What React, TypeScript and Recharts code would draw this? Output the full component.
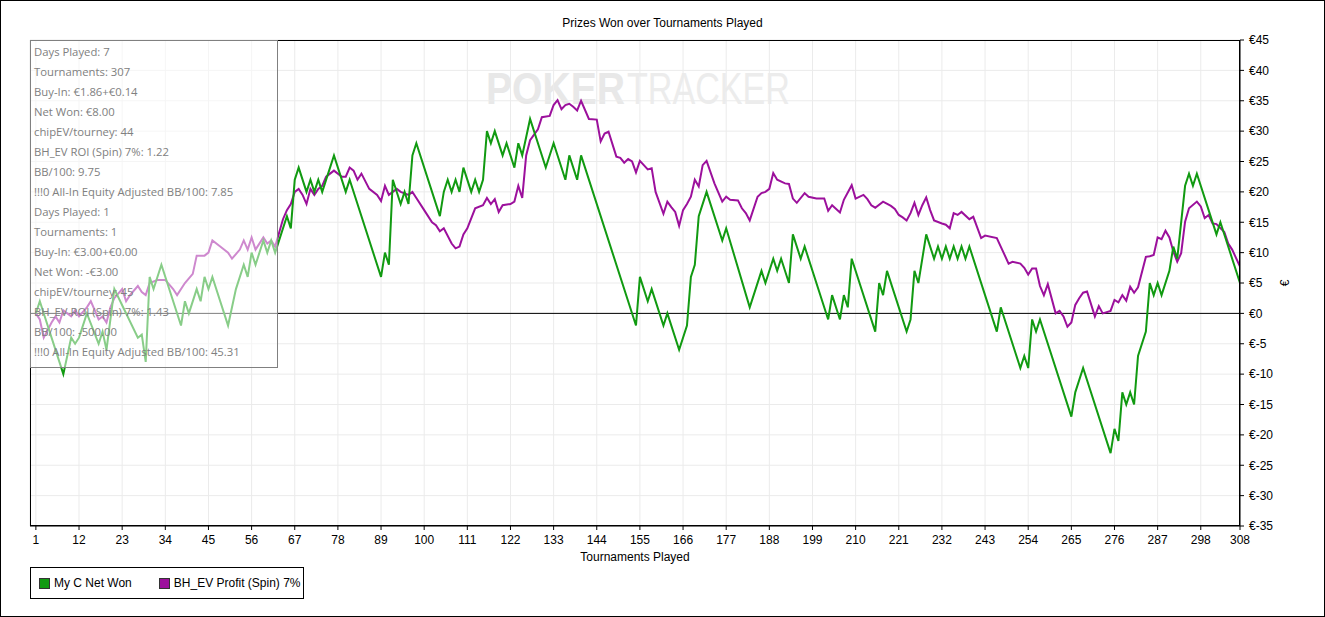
import React from "react";
import {
  LineChart,
  Line,
  XAxis,
  YAxis,
  CartesianGrid,
  ReferenceLine,
} from "recharts";

// My C Net Won (cumulative euros) - turning points
const netWonTourney = [
  1, 2, 8, 10, 11, 12, 14, 17, 18, 19, 21, 27, 28, 29, 30, 31, 33, 38, 39, 40,
  42, 43, 44, 45, 46, 50, 52, 54, 55, 56, 57, 59, 60, 61, 62, 65, 66, 67, 68, 70,
  71, 72, 73, 74, 77, 80, 81, 89, 90, 91, 92, 94, 95, 96, 97, 98, 104, 105, 106, 107,
  108, 109, 110, 112, 113, 114, 115, 116, 117, 118, 120, 121, 123, 124, 125, 127, 131, 133, 136, 137,
  139, 140, 154, 155, 157, 158, 161, 162, 165, 167, 168, 169, 170, 172, 176, 177, 183, 186, 187, 189,
  190, 191, 193, 194, 196, 197, 203, 204, 206, 207, 208, 209, 215, 216, 217, 218, 223, 224, 225, 226,
  228, 230, 231, 232, 233, 234, 235, 236, 237, 238, 239, 246, 247, 252, 253, 254, 255, 256, 257, 265,
  266, 268, 275, 276, 277, 278, 279, 280, 281, 282, 284, 285, 286, 287, 288, 290, 291, 292, 294, 295,
  296, 297, 302, 303, 308,
];
const netWonValue = [
  0, 2, -10, -4, -5, -4, 0, -5, -3, -6, 4, -4, -3.5, -8, 6, 4, 8, -2, 2, 0,
  4, 2, 6, 4, 6, -2, 4, 8, 6, 10, 8, 12, 10, 12, 10, 16, 14, 22, 24, 20,
  22, 20, 22, 20, 26, 20, 22, 6, 10, 8, 22, 18, 20, 18, 26, 28, 16, 20, 22, 20,
  22, 20, 24, 20, 22, 20, 22, 30, 28, 30, 26, 28, 24, 28, 26, 32, 24, 28, 22, 26,
  22, 26, -2, 6, 2, 4, -2, 0, -6, -2, 6, 8, 16, 20, 12, 14, 1, 7, 5, 9,
  7, 9, 5, 13, 9, 11, -1, 3, -1, 3, 1, 9, -3, 5, 3, 7, -3, -1, 7, 5,
  13, 9, 11, 9, 11, 9, 11, 9, 11, 9, 11, -3, 1, -9, -7, -9, -1, -3, -1, -17,
  -13, -9, -23, -19, -21, -13, -15, -13, -15, -7, -3, 5, 3, 5, 3, 7, 11, 9, 21, 23,
  21, 23, 13, 15, 5,
];

// BH_EV Profit (Spin) 7%
const evTourney = [
  1, 2, 3, 5, 6, 7, 8, 10, 11, 12, 14, 15, 17, 18, 19, 20, 21, 23, 24, 25,
  27, 28, 29, 30, 32, 34, 36, 37, 39, 41, 42, 44, 45, 46, 48, 50, 51, 53, 54, 55,
  56, 57, 59, 60, 61, 62, 64, 65, 66, 67, 68, 69, 70, 71, 72, 73, 74, 75, 76, 77,
  79, 80, 81, 82, 83, 84, 86, 88, 89, 90, 91, 93, 94, 96, 97, 98, 100, 102, 103, 104,
  105, 107, 108, 109, 110, 111, 113, 115, 116, 117, 118, 119, 120, 122, 123, 124, 125, 126, 127, 129,
  130, 132, 133, 134, 135, 136, 137, 138, 139, 140, 142, 144, 145, 146, 147, 149, 150, 151, 152, 153,
  154, 155, 157, 158, 159, 161, 162, 163, 164, 165, 166, 167, 168, 169, 170, 171, 172, 174, 176, 177,
  178, 180, 181, 182, 183, 185, 186, 187, 188, 189, 190, 192, 193, 194, 195, 197, 198, 200, 202, 203,
  204, 206, 207, 209, 210, 212, 213, 214, 215, 217, 219, 220, 221, 222, 223, 224, 225, 226, 227, 228,
  229, 230, 232, 233, 234, 235, 236, 237, 239, 240, 242, 243, 246, 247, 249, 250, 252, 253, 254, 255,
  256, 257, 258, 259, 261, 262, 263, 264, 265, 266, 267, 268, 269, 271, 272, 273, 275, 276, 277, 278,
  279, 280, 281, 282, 284, 285, 286, 287, 288, 289, 290, 291, 292, 293, 294, 295, 297, 298, 299, 300,
  301, 302, 304, 305, 306, 308,
];
const evValue = [
  0, -1, -4, -1.5, -0.5, -1.5, 0.5, -0.5, 0.5, -0.5, 1, 2, -1, -0.5, -1.5, 1, 2.5, 4, 2, 3,
  4.5, 3.5, 3, 5, 5.5, 5.5, 4, 3, 5, 6.5, 9.5, 9.5, 10, 12, 11, 10, 9, 10.5, 12, 10.5,
  12.5, 10.5, 12.5, 11.5, 12, 11, 15.5, 17, 18, 20, 20.5, 19.5, 18, 20.5, 19.5, 20.5, 21, 22.5, 23, 23.5,
  22.5, 22.5, 24, 23.5, 22, 23, 20.5, 19.5, 18.5, 21, 19.5, 20.5, 20, 19.5, 20, 19, 17, 15, 14.5, 13.5,
  14, 11.5, 10.7, 11, 13, 14, 17.3, 17.8, 19, 18, 18.8, 16.7, 17.8, 18, 18.4, 21, 19, 26, 28.5, 30.3,
  32.3, 32.5, 34.3, 35.1, 33.6, 34.3, 34.5, 34, 33.4, 35, 32, 31.9, 28.3, 29.6, 29.9, 25.8, 25.6, 24.8, 25.4, 25,
  23.2, 25.1, 23.7, 23.9, 20, 16.4, 18.4, 17.5, 16.7, 14.4, 17, 18, 19.2, 22, 20.9, 24.4, 25.1, 21.4, 18.4, 19.2,
  18.7, 18.6, 17.3, 16.5, 15.3, 19.2, 19.8, 20, 20.5, 23.1, 22, 21.4, 21.3, 18.9, 18.2, 19.8, 19.2, 18.9, 18.9, 16.9,
  17.8, 16.6, 18.7, 21.1, 18.9, 19.5, 18.8, 17.8, 17.4, 18.4, 17.7, 17.2, 16.2, 15.8, 15.3, 16.5, 18.2, 16.2, 17.8, 19.1,
  17, 15.3, 14.8, 14.6, 14, 16.5, 16.2, 16.7, 15.5, 15.9, 12.4, 12.8, 12.4, 11, 8.2, 8.5, 8.2, 7.5, 6.4, 7.4,
  7.4, 4.5, 3, 4.8, 0, 0.4, -0.5, -2.2, -1.5, 1.4, 2.5, 3.4, 3.6, -0.5, 1.2, 0, 0.4, 2.2, 1.8, 3,
  2.1, 4.4, 3.4, 4.3, 9.3, 9.4, 9.6, 12.5, 12.2, 13.6, 12.5, 10.2, 8.5, 9.9, 15.1, 17.3, 18.4, 17.6, 15.7, 16.2,
  14.8, 14.7, 13.4, 11.5, 10.5, 7.7,
];

const xTicks = [1, 12, 23, 34, 45, 56, 67, 78, 89, 100, 111, 122, 133, 144, 155, 166, 177, 188, 199, 210, 221, 232, 243, 254, 265, 276, 287, 298, 308];
const yTicks = [-35, -30, -25, -20, -15, -10, -5, 0, 5, 10, 15, 20, 25, 30, 35, 40, 45];

const hoverLines = [
  "Days Played: 7",
  "Tournaments: 307",
  "Buy-In: €1.86+€0.14",
  "Net Won: €8.00",
  "chipEV/tourney: 44",
  "BH_EV ROI (Spin) 7%: 1.22",
  "BB/100: 9.75",
  "!!!0 All-In Equity Adjusted BB/100: 7.85",
  "Days Played: 1",
  "Tournaments: 1",
  "Buy-In: €3.00+€0.00",
  "Net Won: -€3.00",
  "chipEV/tourney: 45",
  "BH_EV ROI (Spin) 7%: 1.43",
  "BB/100: -500.00",
  "!!!0 All-In Equity Adjusted BB/100: 45.31",
];

const GREEN = "#119a11";
const PURPLE = "#9c109c";
const FONT = "'Liberation Sans', Arial, sans-serif";

const netWon = netWonTourney.map((t, i) => ({ t, v: netWonValue[i] }));
const evProfit = evTourney.map((t, i) => ({ t, v: evValue[i] }));

export default function App() {
  return (
    <div style={{ position: "relative", width: 1325, height: 617, background: "#fff", fontFamily: FONT }}>
      <style>{"body{margin:0}"}</style>

      {/* watermark behind the lines */}
      <svg style={{ position: "absolute", left: 486, top: 58, width: 330, height: 60 }}>
        <text x={0} y={46} fontSize={44} fontWeight={700} fill="#e8e8e8" textLength={139} lengthAdjust="spacingAndGlyphs" fontFamily={FONT}>
          POKER
        </text>
        <text x={141} y={46} fontSize={44} fill="#ececec" textLength={163} lengthAdjust="spacingAndGlyphs" fontFamily={FONT}>
          TRACKER
        </text>
      </svg>

      <div style={{ position: "absolute", left: 0, top: 0 }}>
        <LineChart width={1325} height={617} margin={{ top: 40, right: 0, left: 30, bottom: 61 }}>
          <CartesianGrid stroke="#ebebeb" />
          <XAxis
            type="number"
            dataKey="t"
            domain={[-0.5, 308]}
            ticks={xTicks}
            interval={0}
            allowDataOverflow
            height={30}
            tickSize={4}
            tickMargin={5}
            stroke="#000"
            tick={{ fontSize: 12, fill: "#000", fontFamily: FONT }}
          />
          <YAxis
            orientation="right"
            type="number"
            domain={[-35, 45]}
            ticks={yTicks}
            interval={0}
            width={85}
            tickSize={4}
            tickMargin={5}
            stroke="#000"
            tickFormatter={(v) => `€${v}`}
            tick={{ fontSize: 12, fill: "#000", fontFamily: FONT }}
          />
          <ReferenceLine y={0} stroke="#000" strokeWidth={1} />
          <Line data={evProfit} dataKey="v" type="linear" stroke={PURPLE} strokeWidth={2} dot={false} isAnimationActive={false} />
          <Line data={netWon} dataKey="v" type="linear" stroke={GREEN} strokeWidth={2} dot={false} isAnimationActive={false} />
        </LineChart>
      </div>

      {/* plot frame */}
      <div style={{ position: "absolute", left: 30, top: 40, width: 1210, height: 486, border: "1px solid #000", boxSizing: "border-box", pointerEvents: "none" }} />

      <div style={{ position: "absolute", left: 0, top: 16, width: 1325, textAlign: "center", fontSize: 12 }}>
        Prizes Won over Tournaments Played
      </div>
      <div style={{ position: "absolute", left: 30, top: 550, width: 1210, textAlign: "center", fontSize: 12 }}>
        Tournaments Played
      </div>
      <div style={{ position: "absolute", left: 1282, top: 276, fontSize: 12, transform: "rotate(-90deg)" }}>€</div>

      {/* hover info panel */}
      <div
        style={{
          position: "absolute",
          left: 30,
          top: 40,
          width: 248,
          height: 328,
          boxSizing: "border-box",
          border: "1px solid #808080",
          background: "rgba(255,255,255,0.5)",
          color: "#808080",
          fontFamily: "'Open Sans', 'Noto Sans', sans-serif",
          fontSize: 11.3,
          lineHeight: "20px",
          paddingLeft: 3,
          paddingTop: 1,
          whiteSpace: "nowrap",
        }}
      >
        {hoverLines.map((s, i) => (
          <div key={i}>{s}</div>
        ))}
      </div>

      {/* legend */}
      <div
        style={{
          position: "absolute",
          left: 30,
          top: 567,
          width: 274,
          height: 32,
          boxSizing: "border-box",
          border: "1px solid #000",
          fontSize: 12,
          display: "flex",
          alignItems: "center",
        }}
      >
        <span style={{ display: "inline-block", width: 9, height: 9, background: GREEN, border: "1px solid #333", marginLeft: 8, marginRight: 4 }} />
        <span>My C Net Won</span>
        <span style={{ display: "inline-block", width: 9, height: 9, background: PURPLE, border: "1px solid #333", marginLeft: 27, marginRight: 4 }} />
        <span>BH_EV Profit (Spin) 7%</span>
      </div>

      {/* outer frame */}
      <div style={{ position: "absolute", left: 0, top: 0, width: 1325, height: 617, border: "1px solid #000", boxSizing: "border-box", pointerEvents: "none" }} />
    </div>
  );
}
